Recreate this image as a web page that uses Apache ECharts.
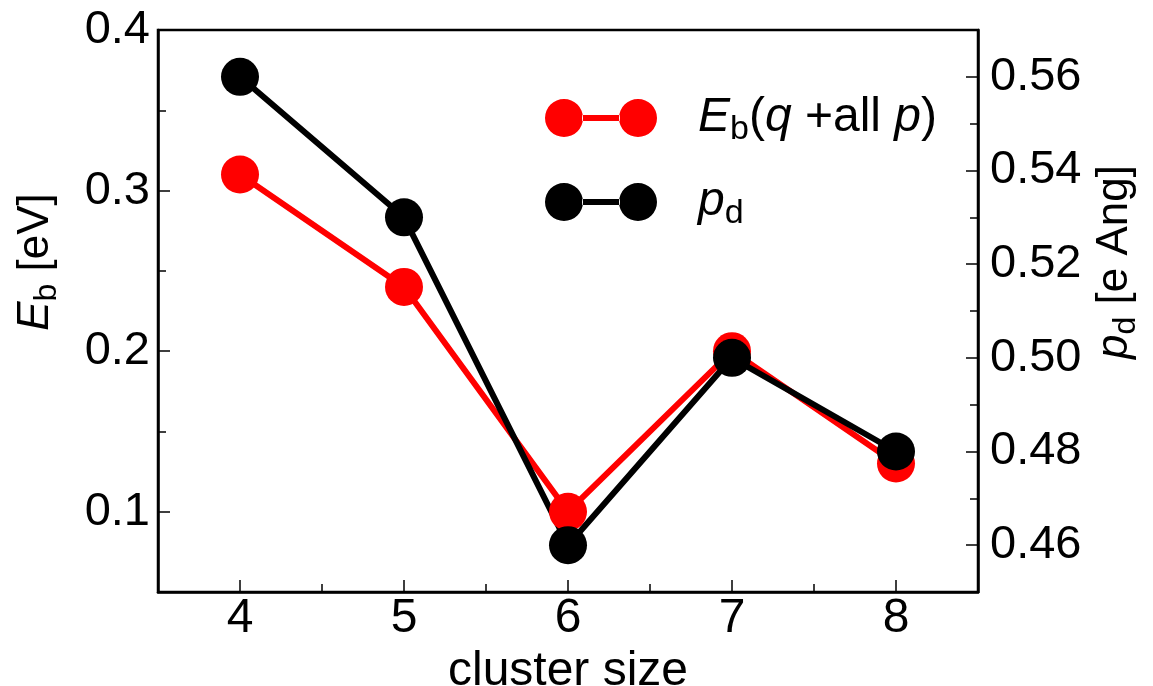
<!DOCTYPE html>
<html>
<head>
<meta charset="utf-8">
<script src="https://cdn.jsdelivr.net/npm/echarts@6/dist/echarts.min.js"></script>
<style>html,body{margin:0;padding:0;background:#fff}#c{width:1153px;height:686px}</style>
</head>
<body>
<div id="c"></div>
<script>
const clusterSizes = [4, 5, 6, 7, 8];
const ebValues = [0.31, 0.24, 0.10, 0.20, 0.13];
const pdValues = [0.56, 0.53, 0.46, 0.50, 0.48];
const xMajorTicks = [4, 5, 6, 7, 8];
const xMinorTicks = [4.5, 5.5, 6.5, 7.5];
const leftMajorTicks = [0.1, 0.2, 0.3, 0.4];
const leftMinorTicks = [0.15, 0.25, 0.35];
const rightMajorTicks = [0.46, 0.48, 0.50, 0.52, 0.54, 0.56];
const rightMinorTicks = [0.47, 0.49, 0.51, 0.53, 0.55];

const FONT = 'Liberation Sans';
const chart = echarts.init(document.getElementById('c'));
const lineAx = {show: true, lineStyle: {color: '#000', width: 2.5}};
const legendIcon = 'path://M0,19 A19,19 0 1,0 38,19 A19,19 0 1,0 0,19 Z M74,19 A19,19 0 1,0 112,19 A19,19 0 1,0 74,19 Z M37,16 L75,16 L75,22 L37,22 Z';

const richName = {
  i: {fontStyle: 'italic', fontSize: 44, fontFamily: FONT, color: '#000'},
  s: {fontSize: 32, fontFamily: FONT, color: '#000', padding: [22, 0, 0, 0]},
  n: {fontSize: 44, fontFamily: FONT, color: '#000'}
};
const richLegend = {
  i: {fontStyle: 'italic', fontSize: 48, fontFamily: FONT, color: '#000'},
  s: {fontSize: 34, fontFamily: FONT, color: '#000', padding: [24, 0, 0, 0]},
  n: {fontSize: 48, fontFamily: FONT, color: '#000'}
};

function pts(xs, ys) { return xs.map((x, i) => [x, ys[i]]); }

chart.setOption({
  animation: false,
  backgroundColor: '#fff',
  grid: {left: 158, right: 175, top: 30, bottom: 94, show: true, borderColor: '#000', borderWidth: 2.5, backgroundColor: 'transparent', containLabel: false, outerBoundsMode: 'none'},
  legend: {
    left: 540, top: 89, orient: 'vertical', itemWidth: 112, itemHeight: 38, itemGap: 31,
    selectedMode: false,
    data: [{name: 'Eb', icon: legendIcon}, {name: 'pd', icon: legendIcon}],
    formatter: function (n) {
      return n === 'Eb' ? '{i|E}{s|b}{n|(}{i|q}{n| +all }{i|p}{n|)}' : '{i|p}{s|d}';
    },
    textStyle: {fontFamily: FONT, fontSize: 48, color: '#000', padding: [0, 0, 0, 36], rich: richLegend}
  },
  xAxis: [
    {
      type: 'value', min: 3.5, max: 8.5, position: 'bottom',
      axisLine: lineAx,
      axisTick: {show: true, inside: true, length: 12, lineStyle: {color: '#000', width: 1.5}, customValues: xMajorTicks},
      axisLabel: {show: true, customValues: xMajorTicks, fontSize: 48, fontFamily: FONT, color: '#000', margin: 3},
      splitLine: {show: false},
      name: 'cluster size', nameLocation: 'middle', nameGap: 38,
      nameTextStyle: {fontSize: 48, fontFamily: FONT, color: '#000'}
    },
    {
      type: 'value', min: 3.5, max: 8.5, position: 'bottom',
      axisLine: {show: false},
      axisTick: {show: true, inside: true, length: 8, lineStyle: {color: '#000', width: 1.5}, customValues: xMinorTicks},
      axisLabel: {show: false},
      splitLine: {show: false}
    }
  ],
  yAxis: [
    {
      type: 'value', min: 0.05, max: 0.4, position: 'left',
      axisLine: lineAx,
      axisTick: {show: true, inside: true, length: 12, lineStyle: {color: '#000', width: 1.5}, customValues: leftMajorTicks},
      axisLabel: {show: true, customValues: leftMajorTicks, formatter: v => v.toFixed(1), fontSize: 47, fontFamily: FONT, color: '#000', margin: 8},
      splitLine: {show: false},
      name: '{i|E}{s|b}{n| [eV]}', nameLocation: 'middle', nameGap: 95, nameRotate: 90,
      nameTextStyle: {fontSize: 44, fontFamily: FONT, color: '#000', rich: richName, padding: [0, 0, 0, 98]}
    },
    {
      type: 'value', min: 0.05, max: 0.4, position: 'left',
      axisLine: {show: false},
      axisTick: {show: true, inside: true, length: 8, lineStyle: {color: '#000', width: 1.5}, customValues: leftMinorTicks},
      axisLabel: {show: false},
      splitLine: {show: false}
    },
    {
      type: 'value', min: 0.45, max: 0.57, position: 'right',
      axisLine: lineAx,
      axisTick: {show: true, inside: true, length: 12, lineStyle: {color: '#000', width: 1.5}, customValues: rightMajorTicks},
      axisLabel: {show: true, customValues: rightMajorTicks, formatter: v => v.toFixed(2), fontSize: 47, fontFamily: FONT, color: '#000', margin: 12},
      splitLine: {show: false},
      name: '{i|p}{s|d}{n| [e Ang]}', nameLocation: 'middle', nameGap: 110, nameRotate: 90,
      nameTextStyle: {fontSize: 44, fontFamily: FONT, color: '#000', rich: richName, padding: [0, 0, 0, 98]}
    },
    {
      type: 'value', min: 0.45, max: 0.57, position: 'right',
      axisLine: {show: false},
      axisTick: {show: true, inside: true, length: 8, lineStyle: {color: '#000', width: 1.5}, customValues: rightMinorTicks},
      axisLabel: {show: false},
      splitLine: {show: false}
    }
  ],
  series: [
    {
      name: 'Eb', type: 'line', xAxisIndex: 0, yAxisIndex: 0,
      data: pts(clusterSizes, ebValues),
      symbol: 'circle', symbolSize: 38,
      lineStyle: {color: '#ff0000', width: 6},
      itemStyle: {color: '#ff0000'}
    },
    {
      name: 'pd', type: 'line', xAxisIndex: 0, yAxisIndex: 2,
      data: pts(clusterSizes, pdValues),
      symbol: 'circle', symbolSize: 38,
      lineStyle: {color: '#000000', width: 6},
      itemStyle: {color: '#000000'}
    }
  ]
});
</script>
</body>
</html>
